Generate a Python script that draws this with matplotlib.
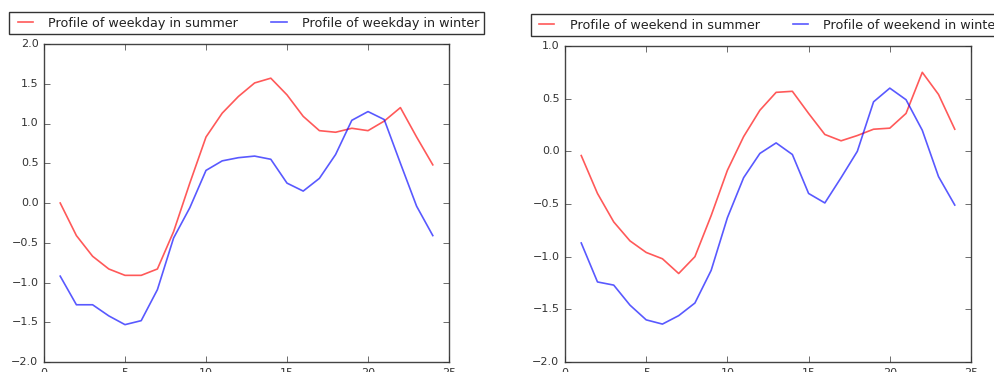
import matplotlib
matplotlib.use("Agg")
import matplotlib.pyplot as plt

plt.style.use("classic")

hours = list(range(1, 25))

weekday_summer = [0.00, -0.41, -0.67, -0.83, -0.91, -0.91, -0.83, -0.36, 0.25, 0.83,
                  1.13, 1.34, 1.51, 1.57, 1.36, 1.09, 0.91, 0.89, 0.94, 0.91,
                  1.03, 1.20, 0.83, 0.48]
weekday_winter = [-0.92, -1.28, -1.28, -1.42, -1.53, -1.48, -1.09, -0.44, -0.06, 0.41,
                  0.53, 0.57, 0.59, 0.55, 0.25, 0.15, 0.31, 0.61, 1.04, 1.15,
                  1.05, 0.50, -0.04, -0.41]
weekend_summer = [-0.04, -0.40, -0.67, -0.85, -0.96, -1.02, -1.16, -1.00, -0.61, -0.18,
                  0.14, 0.39, 0.56, 0.57, 0.36, 0.16, 0.10, 0.15, 0.21, 0.22,
                  0.36, 0.75, 0.54, 0.21]
weekend_winter = [-0.87, -1.24, -1.27, -1.46, -1.60, -1.64, -1.56, -1.44, -1.13, -0.63,
                  -0.25, -0.02, 0.08, -0.03, -0.40, -0.49, -0.25, 0.00, 0.47, 0.60,
                  0.49, 0.20, -0.24, -0.51]

fig = plt.figure(figsize=(9.95, 3.72), dpi=100, facecolor="white")

ax1 = fig.add_axes([44 / 995, 1 - 362 / 372, 405 / 995, 318 / 372])
ax2 = fig.add_axes([565 / 995, 1 - 362 / 372, 406 / 995, 316 / 372])

panels = [
    (ax1, weekday_summer, weekday_winter, "weekday", (-2.0, 2.0)),
    (ax2, weekend_summer, weekend_winter, "weekend", (-2.0, 1.0)),
]

for ax, summer, winter, kind, ylim in panels:
    ax.plot(hours, summer, color="red", alpha=0.65, lw=1.2,
            label=f"Profile of {kind} in summer")
    ax.plot(hours, winter, color="blue", alpha=0.65, lw=1.2,
            label=f"Profile of {kind} in winter")
    ax.set_xlim(0, 25)
    ax.set_ylim(*ylim)
    ax.tick_params(labelsize=8, colors="#333333")
    for sp in ax.spines.values():
        sp.set_edgecolor("#444444")
    leg = ax.legend(loc="lower center", bbox_to_anchor=(0.5, 1.031), ncol=2,
                    borderaxespad=0, fontsize=9.2, frameon=True, fancybox=False,
                    handlelength=1.8, handletextpad=0.9, columnspacing=2.3,
                    borderpad=0.35)
    leg.get_frame().set_edgecolor("#333333")
    for t in leg.get_texts():
        t.set_color("#222222")

fig.savefig("out.png", dpi=100, facecolor="white")
